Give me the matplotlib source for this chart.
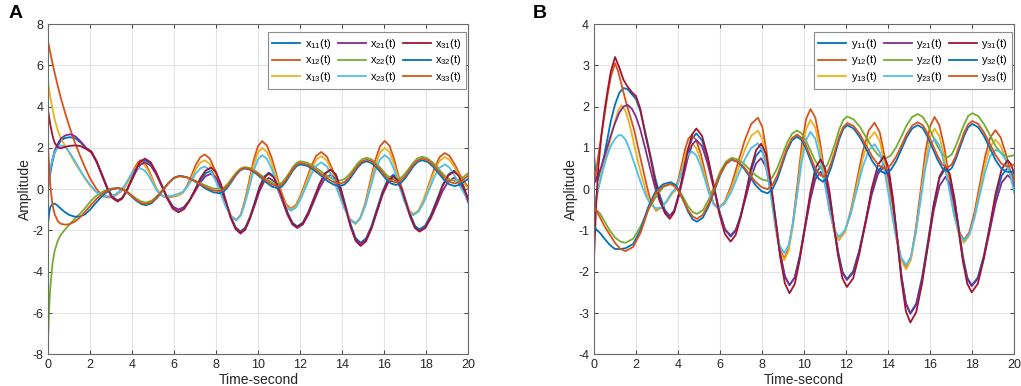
"""
Two panels: responses x_ij(t) (A) and y_ij(t) (B).
"""
import matplotlib
matplotlib.use('Agg')
import matplotlib.pyplot as plt

# MATLAB default colour order
BLUE = '#0072BD'
ORANGE = '#D95319'
YELLOW = '#EDB120'
PURPLE = '#7E2F8E'
GREEN = '#77AC30'
CYAN = '#4DBEEE'
DARKRED = '#A2142F'

# ---------------- panel A ----------------
# group with x11, x21, x31
t_a_p = [0, 0.1, 0.2, 0.3, 0.45, 0.6, 0.8, 1.05, 1.3, 1.55, 1.8,
         2.05, 2.3, 2.55, 2.8, 3.05, 3.3,
         3.52, 3.73, 3.95, 4.17, 4.38, 4.6,
         4.87, 5.13, 5.4, 5.67, 5.93, 6.2,
         6.46, 6.72, 6.98, 7.23, 7.49, 7.75,
         7.98, 8.22, 8.45, 8.68, 8.92, 9.15,
         9.38, 9.6, 9.83, 10.05, 10.28, 10.5,
         10.73, 10.95, 11.18, 11.4, 11.63, 11.85,
         12.12, 12.38, 12.65, 12.92, 13.18, 13.45,
         13.69, 13.92, 14.16, 14.4, 14.63, 14.87,
         15.13, 15.39, 15.65, 15.91, 16.17, 16.43,
         16.64, 16.84, 17.05, 17.26, 17.46, 17.67,
         17.95, 18.22, 18.5, 18.77, 19.05, 19.32,
         19.54, 19.77, 20.0]
x11 = [0.2, 0.8, 1.35, 1.75, 2.1, 2.35, 2.48, 2.52, 2.45, 2.25, 1.98,
       1.81, 1.35, 0.72, 0.08, -0.38, -0.55,
       -0.42, -0.06, 0.43, 0.91, 1.27, 1.4,
       1.24, 0.8, 0.2, -0.4, -0.84, -1.0,
       -0.87, -0.53, -0.05, 0.43, 0.77, 0.9,
       0.70, 0.16, -0.58, -1.31, -1.85, -2.05,
       -1.86, -1.34, -0.63, 0.09, 0.61, 0.8,
       0.63, 0.15, -0.5, -1.15, -1.63, -1.8,
       -1.62, -1.11, -0.43, 0.26, 0.77, 0.95,
       0.71, 0.06, -0.83, -1.71, -2.36, -2.6,
       -2.38, -1.78, -0.95, -0.13, 0.48, 0.7,
       0.52, 0.04, -0.63, -1.29, -1.77, -1.95,
       -1.76, -1.24, -0.53, 0.19, 0.71, 0.9,
       0.7, 0.15, -0.5]
x21 = [0.35, 0.95, 1.45, 1.85, 2.2, 2.45, 2.6, 2.66, 2.55, 2.3, 2.0,
       1.83, 1.36, 0.73, 0.09, -0.38, -0.55,
       -0.43, -0.09, 0.38, 0.84, 1.18, 1.3,
       1.15, 0.73, 0.15, -0.43, -0.85, -1.0,
       -0.88, -0.56, -0.13, 0.31, 0.63, 0.75,
       0.56, 0.04, -0.67, -1.37, -1.89, -2.08,
       -1.90, -1.42, -0.77, -0.11, 0.37, 0.55,
       0.39, -0.06, -0.67, -1.27, -1.72, -1.88,
       -1.71, -1.24, -0.59, 0.06, 0.53, 0.7,
       0.48, -0.14, -0.98, -1.81, -2.43, -2.65,
       -2.44, -1.86, -1.08, -0.29, 0.29, 0.5,
       0.33, -0.14, -0.78, -1.41, -1.88, -2.05,
       -1.88, -1.40, -0.75, -0.1, 0.38, 0.55,
       0.4, -0.05, -0.65]
x31 = [3.75, 3.1, 2.6, 2.25, 2.02, 1.98, 2.05, 2.1, 2.12, 2.08, 1.95,
       1.78, 1.31, 0.68, 0.04, -0.43, -0.6,
       -0.46, -0.08, 0.44, 0.96, 1.34, 1.48,
       1.31, 0.83, 0.18, -0.47, -0.95, -1.12,
       -0.97, -0.58, -0.04, 0.51, 0.90, 1.05,
       0.84, 0.25, -0.55, -1.35, -1.94, -2.15,
       -1.96, -1.43, -0.70, 0.03, 0.56, 0.75,
       0.58, 0.10, -0.55, -1.20, -1.68, -1.85,
       -1.66, -1.15, -0.45, 0.25, 0.76, 0.95,
       0.70, 0.03, -0.90, -1.83, -2.50, -2.75,
       -2.52, -1.91, -1.07, -0.22, 0.39, 0.62,
       0.44, -0.05, -0.72, -1.38, -1.87, -2.05,
       -1.86, -1.33, -0.60, 0.13, 0.66, 0.85,
       0.65, 0.1, -0.55]

# group with x12, x13, x23
t_a_f = [0, 0.1, 0.2, 0.3, 0.45, 0.6, 0.8, 1.0, 1.25, 1.5, 1.75, 2.0,
         2.3, 2.6, 2.9, 3.2, 3.45, 3.65, 3.85, 4.05, 4.25, 4.4,
         4.58, 4.77, 4.95, 5.13, 5.32, 5.5,
         5.85, 6.2,
         6.41, 6.62, 6.83, 7.03, 7.24, 7.45,
         7.7, 7.95, 8.2, 8.45, 8.7, 8.95,
         9.16, 9.36, 9.57, 9.77, 9.98, 10.18,
         10.41, 10.64, 10.87, 11.09, 11.32, 11.55,
         11.79, 12.03, 12.28, 12.52, 12.76, 13.0,
         13.27, 13.54, 13.81, 14.08, 14.35, 14.62,
         14.85, 15.09, 15.32, 15.55, 15.79, 16.02,
         16.25, 16.47, 16.7, 16.93, 17.15, 17.38,
         17.63, 17.88, 18.13, 18.38, 18.63, 18.88,
         19.1, 19.35, 19.6, 19.8, 20.0]
x12 = [7.1, 6.6, 6.1, 5.65, 5.0, 4.4, 3.7, 3.05, 2.3, 1.65, 1.05, 0.5,
       0.0, -0.35, -0.4, -0.3, -0.12, 0.12, 0.5, 0.92, 1.27, 1.4,
       1.28, 0.96, 0.52, 0.07, -0.25, -0.37,
       -0.38, -0.3,
       -0.17, 0.2, 0.69, 1.19, 1.55, 1.68,
       1.47, 0.89, 0.09, -0.71, -1.29, -1.5,
       -1.24, -0.54, 0.42, 1.37, 2.07, 2.33,
       2.11, 1.51, 0.69, -0.13, -0.73, -0.95,
       -0.77, -0.26, 0.43, 1.11, 1.62, 1.8,
       1.57, 0.93, 0.06, -0.81, -1.45, -1.68,
       -1.41, -0.68, 0.33, 1.34, 2.07, 2.34,
       2.10, 1.44, 0.55, -0.35, -1.01, -1.25,
       -1.05, -0.5, 0.25, 1.0, 1.55, 1.75,
       1.62, 1.2, 0.7, 0.35, 0.1]
x13 = [5.1, 4.45, 3.9, 3.4, 2.85, 2.45, 2.1, 1.75, 1.3, 0.9, 0.5, 0.15,
       -0.15, -0.33, -0.35, -0.27, -0.1, 0.12, 0.45, 0.85, 1.17, 1.28,
       1.17, 0.87, 0.47, 0.06, -0.24, -0.35,
       -0.36, -0.28,
       -0.17, 0.14, 0.56, 0.98, 1.29, 1.4,
       1.21, 0.68, -0.05, -0.78, -1.31, -1.5,
       -1.27, -0.63, 0.25, 1.13, 1.77, 2.0,
       1.8, 1.25, 0.5, -0.25, -0.8, -1.0,
       -0.83, -0.35, 0.3, 0.95, 1.43, 1.6,
       1.38, 0.79, -0.03, -0.84, -1.43, -1.65,
       -1.41, -0.74, 0.18, 1.09, 1.76, 2.0,
       1.79, 1.2, 0.4, -0.4, -0.99, -1.2,
       -1.02, -0.51, 0.18, 0.86, 1.37, 1.55,
       1.42, 1.05, 0.6, 0.28, 0.0]
x23 = [0.4, 1.0, 1.45, 1.78, 2.02, 2.12, 2.05, 1.8, 1.4, 0.95, 0.55, 0.2,
       -0.15, -0.33, -0.35, -0.25, -0.05, 0.2, 0.55, 0.88, 1.05, 1.0,
       0.91, 0.66, 0.33, -0.01, -0.26, -0.35,
       -0.33, -0.22,
       -0.13, 0.11, 0.44, 0.77, 1.01, 1.1,
       0.93, 0.45, -0.2, -0.85, -1.33, -1.5,
       -1.29, -0.71, 0.08, 0.86, 1.44, 1.65,
       1.47, 0.98, 0.3, -0.38, -0.87, -1.05,
       -0.89, -0.46, 0.13, 0.71, 1.14, 1.3,
       1.1, 0.56, -0.18, -0.91, -1.45, -1.65,
       -1.43, -0.83, 0.0, 0.83, 1.43, 1.65,
       1.46, 0.93, 0.2, -0.53, -1.06, -1.25,
       -1.09, -0.64, -0.03, 0.59, 1.04, 1.2,
       1.05, 0.65, 0.15, -0.2, -0.55]

# group with x22, x32, x33
t_a_s = [0, 0.05, 0.1, 0.2, 0.3, 0.45, 0.6, 0.8, 1.0, 1.25, 1.5, 1.75,
         2.0, 2.25, 2.5, 2.75, 3.0, 3.3,
         3.53, 3.75, 3.98, 4.2, 4.43, 4.65,
         4.92, 5.18, 5.45, 5.72, 5.98, 6.25,
         6.57, 6.88, 7.2, 7.52, 7.83, 8.15,
         8.35, 8.55, 8.75, 8.95, 9.15, 9.35,
         9.62, 9.88, 10.15, 10.42, 10.68, 10.95,
         11.13, 11.3, 11.48, 11.65, 11.83, 12.0,
         12.32, 12.63, 12.95, 13.27, 13.58, 13.9,
         14.11, 14.32, 14.53, 14.73, 14.94, 15.15,
         15.38, 15.62, 15.85, 16.08, 16.32, 16.55,
         16.76, 16.97, 17.18, 17.38, 17.59, 17.8,
         18.06, 18.32, 18.58, 18.83, 19.09, 19.35,
         19.55, 19.78, 20.0]
x22 = [-7.0, -5.6, -4.7, -3.6, -3.0, -2.5, -2.2, -1.95, -1.72, -1.45, -1.2,
       -0.92, -0.6, -0.35, -0.17, -0.05, 0.03, 0.07,
       0.02, -0.11, -0.29, -0.47, -0.6, -0.65,
       -0.56, -0.33, -0.02, 0.30, 0.53, 0.62,
       0.58, 0.47, 0.31, 0.16, 0.04, 0.0,
       0.07, 0.27, 0.54, 0.8, 1.0, 1.07,
       1.02, 0.87, 0.66, 0.46, 0.3, 0.25,
       0.32, 0.53, 0.8, 1.08, 1.28, 1.35,
       1.29, 1.12, 0.89, 0.65, 0.48, 0.42,
       0.49, 0.7, 0.97, 1.25, 1.45, 1.52,
       1.45, 1.25, 0.99, 0.72, 0.52, 0.45,
       0.53, 0.73, 1.01, 1.29, 1.5, 1.57,
       1.49, 1.28, 0.99, 0.69, 0.48, 0.4,
       0.45, 0.6, 0.78]
x32 = [-1.55, -1.1, -0.85, -0.72, -0.7, -0.8, -0.95, -1.12, -1.25, -1.33,
       -1.33, -1.22, -0.98, -0.68, -0.4, -0.17, -0.02, 0.05,
       -0.01, -0.16, -0.37, -0.57, -0.72, -0.78,
       -0.68, -0.42, -0.07, 0.29, 0.55, 0.65,
       0.59, 0.44, 0.23, 0.01, -0.14, -0.2,
       -0.12, 0.1, 0.4, 0.7, 0.92, 1.0,
       0.94, 0.76, 0.53, 0.29, 0.11, 0.05,
       0.13, 0.34, 0.63, 0.91, 1.12, 1.2,
       1.13, 0.94, 0.68, 0.41, 0.22, 0.15,
       0.23, 0.45, 0.75, 1.05, 1.27, 1.35,
       1.27, 1.06, 0.78, 0.49, 0.28, 0.2,
       0.28, 0.5, 0.8, 1.1, 1.32, 1.4,
       1.32, 1.09, 0.78, 0.46, 0.23, 0.15,
       0.2, 0.35, 0.5]
x33 = [1.85, 0.9, 0.1, -0.75, -1.2, -1.55, -1.68, -1.72, -1.7, -1.58,
       -1.38, -1.1, -0.8, -0.52, -0.28, -0.1, 0.0, 0.05,
       0.0, -0.14, -0.34, -0.53, -0.67, -0.72,
       -0.63, -0.38, -0.05, 0.29, 0.54, 0.63,
       0.58, 0.45, 0.27, 0.08, -0.05, -0.1,
       -0.02, 0.18, 0.47, 0.75, 0.95, 1.03,
       0.97, 0.81, 0.59, 0.37, 0.21, 0.15,
       0.22, 0.43, 0.71, 0.99, 1.19, 1.27,
       1.2, 1.02, 0.77, 0.52, 0.34, 0.27,
       0.35, 0.56, 0.85, 1.14, 1.35, 1.43,
       1.36, 1.15, 0.88, 0.6, 0.39, 0.32,
       0.4, 0.61, 0.9, 1.19, 1.4, 1.48,
       1.4, 1.18, 0.88, 0.58, 0.36, 0.28,
       0.33, 0.48, 0.65]

# ---------------- panel B ----------------
# group with y11, y21, y31
t_b_p = [0, 0.1, 0.2, 0.35, 0.5, 0.65, 0.8, 1.0, 1.2, 1.4, 1.6, 1.8, 2.0, 2.2,
         2.43, 2.67, 2.9, 3.13, 3.37, 3.6,
         3.81, 4.02, 4.24, 4.45, 4.66, 4.87,
         5.14, 5.41, 5.69, 5.96, 6.23, 6.5,
         6.74, 6.98, 7.23, 7.47, 7.71, 7.95,
         8.18, 8.4, 8.63, 8.85, 9.08, 9.3,
         9.55, 9.79, 10.04, 10.29, 10.53, 10.78,
         10.99, 11.2, 11.4, 11.61, 11.82, 12.03,
         12.33, 12.62, 12.92, 13.21, 13.51, 13.8,
         14.01, 14.22, 14.43, 14.63, 14.84, 15.05,
         15.33, 15.61, 15.89, 16.16, 16.44, 16.72,
         16.93, 17.14, 17.35, 17.55, 17.76, 17.97,
         18.26, 18.54, 18.83, 19.11, 19.4, 19.68,
         19.85, 20.0]
y11 = [0.83, 0.2, 0.25, 0.5, 0.85, 1.25, 1.65, 2.05, 2.33, 2.45, 2.42, 2.3,
       2.18, 1.9,
       1.4, 0.85, 0.3, -0.15, -0.5, -0.65,
       -0.52, -0.15, 0.35, 0.85, 1.22, 1.35,
       1.18, 0.73, 0.1, -0.53, -0.98, -1.15,
       -1.01, -0.63, -0.1, 0.43, 0.81, 0.95,
       0.73, 0.13, -0.69, -1.51, -2.11, -2.33,
       -2.14, -1.61, -0.89, -0.17, 0.36, 0.55,
       0.37, -0.13, -0.82, -1.5, -2.0, -2.18,
       -1.99, -1.48, -0.78, -0.08, 0.43, 0.62,
       0.38, -0.29, -1.19, -2.1, -2.76, -3.0,
       -2.77, -2.13, -1.25, -0.38, 0.27, 0.5,
       0.31, -0.21, -0.92, -1.62, -2.14, -2.33,
       -2.14, -1.62, -0.91, -0.19, 0.33, 0.52,
       0.42, 0.2]
y21 = [0.12, 0.25, 0.35, 0.55, 0.8, 1.05, 1.3, 1.6, 1.85, 2.0, 2.04, 1.95,
       1.75, 1.45,
       1.0, 0.5, 0.05, -0.3, -0.55, -0.65,
       -0.53, -0.19, 0.27, 0.73, 1.07, 1.19,
       1.04, 0.61, 0.04, -0.54, -0.97, -1.12,
       -0.99, -0.65, -0.19, 0.28, 0.62, 0.75,
       0.54, -0.02, -0.79, -1.55, -2.11, -2.32,
       -2.14, -1.64, -0.95, -0.26, 0.24, 0.42,
       0.24, -0.24, -0.89, -1.55, -2.02, -2.2,
       -2.02, -1.51, -0.83, -0.14, 0.37, 0.55,
       0.31, -0.34, -1.24, -2.13, -2.78, -3.02,
       -2.8, -2.19, -1.36, -0.53, 0.08, 0.3,
       0.12, -0.36, -1.03, -1.69, -2.17, -2.35,
       -2.17, -1.68, -1.01, -0.33, 0.16, 0.34,
       0.25, 0.05]
y31 = [-1.68, -0.4, 0.5, 1.3, 1.9, 2.4, 2.85, 3.2, 2.95, 2.65, 2.48, 2.35,
       2.25, 1.95,
       1.35, 0.8, 0.2, -0.25, -0.58, -0.72,
       -0.57, -0.17, 0.38, 0.92, 1.32, 1.47,
       1.29, 0.79, 0.1, -0.59, -1.09, -1.27,
       -1.11, -0.68, -0.09, 0.51, 0.94, 1.1,
       0.86, 0.2, -0.71, -1.62, -2.28, -2.52,
       -2.3, -1.71, -0.9, -0.09, 0.5, 0.72,
       0.51, -0.05, -0.83, -1.6, -2.16, -2.37,
       -2.16, -1.58, -0.79, 0.01, 0.59, 0.8,
       0.53, -0.21, -1.22, -2.22, -2.96, -3.23,
       -2.98, -2.28, -1.34, -0.39, 0.31, 0.56,
       0.36, -0.21, -0.97, -1.74, -2.29, -2.5,
       -2.29, -1.7, -0.9, -0.1, 0.49, 0.7,
       0.6, 0.35]

# group with y12, y13, y23
t_b_f = [0, 0.1, 0.2, 0.35, 0.5, 0.65, 0.8, 1.0, 1.15, 1.3, 1.5, 1.7, 1.9,
         2.1, 2.3, 2.5, 2.7, 2.95, 3.2, 3.45, 3.7,
         3.86, 4.02, 4.18, 4.33, 4.49, 4.65,
         4.86, 5.07, 5.28, 5.48, 5.69, 5.9,
         6.22, 6.53, 6.85, 7.17, 7.48, 7.8,
         8.01, 8.22, 8.43, 8.63, 8.84, 9.05,
         9.26, 9.47, 9.68, 9.88, 10.09, 10.3,
         10.53, 10.75, 10.98, 11.2, 11.43, 11.65,
         11.93, 12.22, 12.5, 12.78, 13.07, 13.35,
         13.6, 13.85, 14.1, 14.35, 14.6, 14.85,
         15.08, 15.3, 15.53, 15.75, 15.98, 16.2,
         16.43, 16.67, 16.9, 17.13, 17.37, 17.6,
         17.85, 18.1, 18.35, 18.6, 18.85, 19.1,
         19.35, 19.6, 19.8, 20.0]
y12 = [0.14, 0.45, 0.8, 1.3, 1.8, 2.3, 2.72, 3.05, 2.85, 2.55, 2.15, 1.8,
       1.45, 1.0, 0.55, 0.1, -0.3, -0.52, -0.45, -0.3, -0.1,
       -0.01, 0.25, 0.61, 0.96, 1.22, 1.31,
       1.19, 0.87, 0.43, -0.02, -0.34, -0.46,
       -0.31, 0.09, 0.64, 1.18, 1.58, 1.73,
       1.5, 0.88, 0.03, -0.83, -1.45, -1.68,
       -1.44, -0.78, 0.13, 1.04, 1.70, 1.94,
       1.73, 1.15, 0.36, -0.44, -1.02, -1.23,
       -1.04, -0.52, 0.19, 0.9, 1.42, 1.61,
       1.37, 0.73, -0.15, -1.02, -1.66, -1.9,
       -1.66, -0.99, -0.08, 0.84, 1.51, 1.75,
       1.55, 1.01, 0.26, -0.49, -1.03, -1.23,
       -1.05, -0.57, 0.1, 0.77, 1.25, 1.43,
       1.25, 0.85, 0.45, 0.15]
y13 = [-0.55, -0.3, 0.0, 0.4, 0.7, 0.95, 1.25, 1.65, 1.9, 2.03, 1.9, 1.55,
       1.1, 0.65, 0.25, -0.1, -0.35, -0.5, -0.45, -0.3, -0.12,
       -0.04, 0.19, 0.49, 0.8, 1.02, 1.1,
       1.0, 0.71, 0.32, -0.07, -0.36, -0.46,
       -0.33, 0.01, 0.48, 0.95, 1.29, 1.42,
       1.21, 0.64, -0.15, -0.94, -1.51, -1.72,
       -1.49, -0.87, -0.02, 0.83, 1.45, 1.68,
       1.49, 0.96, 0.23, -0.5, -1.03, -1.22,
       -1.05, -0.57, 0.08, 0.73, 1.21, 1.38,
       1.16, 0.55, -0.28, -1.11, -1.72, -1.94,
       -1.71, -1.09, -0.24, 0.62, 1.24, 1.47,
       1.28, 0.78, 0.09, -0.61, -1.11, -1.3,
       -1.13, -0.68, -0.05, 0.58, 1.03, 1.2,
       1.05, 0.7, 0.35, 0.05]
y23 = [-0.4, -0.2, 0.0, 0.3, 0.6, 0.85, 1.05, 1.22, 1.3, 1.31, 1.2, 0.95,
       0.65, 0.35, 0.05, -0.2, -0.37, -0.46, -0.45, -0.3, -0.08,
       -0.01, 0.17, 0.42, 0.66, 0.84, 0.91,
       0.82, 0.57, 0.23, -0.12, -0.37, -0.46,
       -0.35, -0.07, 0.33, 0.72, 1.0, 1.11,
       0.93, 0.45, -0.22, -0.89, -1.37, -1.55,
       -1.35, -0.82, -0.08, 0.65, 1.19, 1.39,
       1.22, 0.76, 0.12, -0.52, -0.98, -1.15,
       -1.0, -0.59, -0.03, 0.53, 0.94, 1.09,
       0.89, 0.36, -0.38, -1.11, -1.64, -1.84,
       -1.63, -1.07, -0.31, 0.46, 1.02, 1.23,
       1.06, 0.61, -0.01, -0.63, -1.08, -1.25,
       -1.1, -0.7, -0.15, 0.4, 0.8, 0.95,
       0.9, 0.7, 0.35, -0.1]

# group with y22, y32, y33
t_b_s = [0, 0.15, 0.3, 0.5, 0.75, 1.0, 1.25, 1.5,
         1.86, 2.22, 2.58, 2.93, 3.29, 3.65,
         3.86, 4.07, 4.28, 4.48, 4.69, 4.9,
         5.18, 5.45, 5.73, 6.0, 6.28, 6.55,
         6.83, 7.12, 7.4, 7.68, 7.97, 8.25,
         8.48, 8.72, 8.95, 9.18, 9.42, 9.65,
         9.86, 10.07, 10.28, 10.48, 10.69, 10.9,
         11.09, 11.28, 11.48, 11.67, 11.86, 12.05,
         12.35, 12.65, 12.95, 13.25, 13.55, 13.85,
         14.11, 14.37, 14.63, 14.88, 15.14, 15.4,
         15.64, 15.87, 16.11, 16.35, 16.58, 16.82,
         17.02, 17.21, 17.41, 17.61, 17.8, 18.0,
         18.28, 18.55, 18.83, 19.1, 19.38, 19.65,
         19.85, 20.0]
y22 = [-0.46, -0.52, -0.6, -0.78, -1.0, -1.17, -1.27, -1.3,
       -1.2, -0.9, -0.5, -0.2, 0.05, 0.14,
       0.09, -0.05, -0.23, -0.42, -0.55, -0.6,
       -0.51, -0.26, 0.08, 0.42, 0.67, 0.76,
       0.72, 0.62, 0.48, 0.34, 0.24, 0.2,
       0.28, 0.51, 0.81, 1.12, 1.34, 1.42,
       1.36, 1.19, 0.96, 0.73, 0.56, 0.5,
       0.58, 0.82, 1.13, 1.45, 1.68, 1.76,
       1.69, 1.51, 1.25, 1.0, 0.81, 0.74,
       0.81, 1.01, 1.28, 1.55, 1.75, 1.82,
       1.75, 1.56, 1.3, 1.03, 0.84, 0.77,
       0.84, 1.04, 1.31, 1.57, 1.77, 1.84,
       1.77, 1.58, 1.32, 1.05, 0.86, 0.79,
       0.8, 0.83]
y32 = [-0.9, -1.0, -1.07, -1.2, -1.35, -1.45, -1.45, -1.43,
       -1.33, -0.98, -0.43, -0.05, 0.12, 0.17,
       0.11, -0.07, -0.31, -0.55, -0.73, -0.79,
       -0.69, -0.42, -0.04, 0.34, 0.61, 0.71,
       0.66, 0.51, 0.31, 0.1, -0.05, -0.1,
       -0.01, 0.24, 0.59, 0.93, 1.18, 1.27,
       1.2, 1.0, 0.73, 0.45, 0.25, 0.18,
       0.27, 0.52, 0.87, 1.21, 1.46, 1.55,
       1.47, 1.26, 0.97, 0.67, 0.46, 0.38,
       0.46, 0.67, 0.97, 1.26, 1.47, 1.55,
       1.48, 1.27, 0.99, 0.71, 0.5, 0.43,
       0.51, 0.72, 1.01, 1.29, 1.5, 1.58,
       1.5, 1.29, 1.0, 0.71, 0.5, 0.42,
       0.42, 0.43]
y33 = [-0.43, -0.55, -0.7, -0.9, -1.1, -1.3, -1.45, -1.5,
       -1.4, -1.05, -0.5, -0.1, 0.07, 0.12,
       0.06, -0.09, -0.3, -0.51, -0.66, -0.72,
       -0.62, -0.36, 0.0, 0.36, 0.62, 0.72,
       0.67, 0.54, 0.36, 0.18, 0.05, 0.0,
       0.09, 0.33, 0.66, 0.99, 1.23, 1.32,
       1.25, 1.07, 0.81, 0.56, 0.37, 0.3,
       0.39, 0.63, 0.95, 1.28, 1.51, 1.6,
       1.53, 1.33, 1.05, 0.78, 0.57, 0.5,
       0.58, 0.78, 1.06, 1.34, 1.54, 1.62,
       1.55, 1.35, 1.07, 0.8, 0.59, 0.52,
       0.6, 0.8, 1.09, 1.37, 1.57, 1.65,
       1.58, 1.38, 1.1, 0.83, 0.62, 0.55,
       0.57, 0.6]

x_ticks = list(range(0, 21, 2))
a_yticks = list(range(-8, 9, 2))
b_yticks = list(range(-4, 5, 1))
names = ['11', '12', '13', '21', '22', '23', '31', '32', '33']
colors = [BLUE, ORANGE, YELLOW, PURPLE, GREEN, CYAN, DARKRED, BLUE, ORANGE]


def style_axes(ax, yticks):
    """MATLAB-like box, grid and ticks."""
    ax.set_xlim(0, 20)
    ax.set_ylim(yticks[0], yticks[-1])
    ax.set_xticks(x_ticks)
    ax.set_yticks(yticks)
    ax.grid(True, color='#e3e3e3', linewidth=0.8)
    ax.set_axisbelow(True)
    ax.tick_params(direction='in', top=True, right=True, length=3,
                   labelsize=9, colors='#262626', width=0.6)
    for sp in ax.spines.values():
        sp.set_color('#6a6a6a')
        sp.set_linewidth(0.8)
    ax.set_xlabel('Time-second', fontsize=10, color='#262626', labelpad=1)
    ax.set_ylabel('Amplitude', fontsize=10, color='#262626', labelpad=0)


def draw_panel(ax, letter, series, yticks):
    """Plot the nine curves of one panel."""
    for (t, y), name, c in zip(series, names, colors):
        assert len(t) == len(y), (letter, name, len(t), len(y))
        ax.plot(t, y, color=c, linewidth=1.3,
                label=letter + '$_{' + name + '}$(t)')
    style_axes(ax, yticks)
    leg = ax.legend(ncol=3, loc='upper right', bbox_to_anchor=(0.995, 0.975),
                    borderaxespad=0, fontsize=8, fancybox=False,
                    framealpha=1, edgecolor='#8c8c8c', handlelength=2.5,
                    handletextpad=0.4, columnspacing=0.6, labelspacing=0.25,
                    borderpad=0.4)
    leg.get_frame().set_linewidth(0.8)


def main():
    """Build the figure."""
    plt.rcParams['font.family'] = ['Liberation Sans', 'DejaVu Sans']
    plt.rcParams['mathtext.default'] = 'regular'
    plt.rcParams['axes.unicode_minus'] = False
    fig = plt.figure(figsize=(10.21, 3.86), dpi=100)
    ax_a = fig.add_axes([0.0473, 0.0821, 0.4114, 0.8557])
    ax_b = fig.add_axes([0.5818, 0.0821, 0.4117, 0.8557])

    series_a = [(t_a_p, x11), (t_a_f, x12), (t_a_f, x13),
                (t_a_p, x21), (t_a_s, x22), (t_a_f, x23),
                (t_a_p, x31), (t_a_s, x32), (t_a_s, x33)]
    series_b = [(t_b_p, y11), (t_b_f, y12), (t_b_f, y13),
                (t_b_p, y21), (t_b_s, y22), (t_b_f, y23),
                (t_b_p, y31), (t_b_s, y32), (t_b_s, y33)]
    draw_panel(ax_a, 'x', series_a, a_yticks)
    draw_panel(ax_b, 'y', series_b, b_yticks)

    fig.text(0.008, 0.965, 'A', fontsize=14, fontweight='bold', va='center')
    fig.text(0.522, 0.965, 'B', fontsize=14, fontweight='bold', va='center')
    fig.savefig('out.png', dpi=100)


if __name__ == '__main__':
    main()
